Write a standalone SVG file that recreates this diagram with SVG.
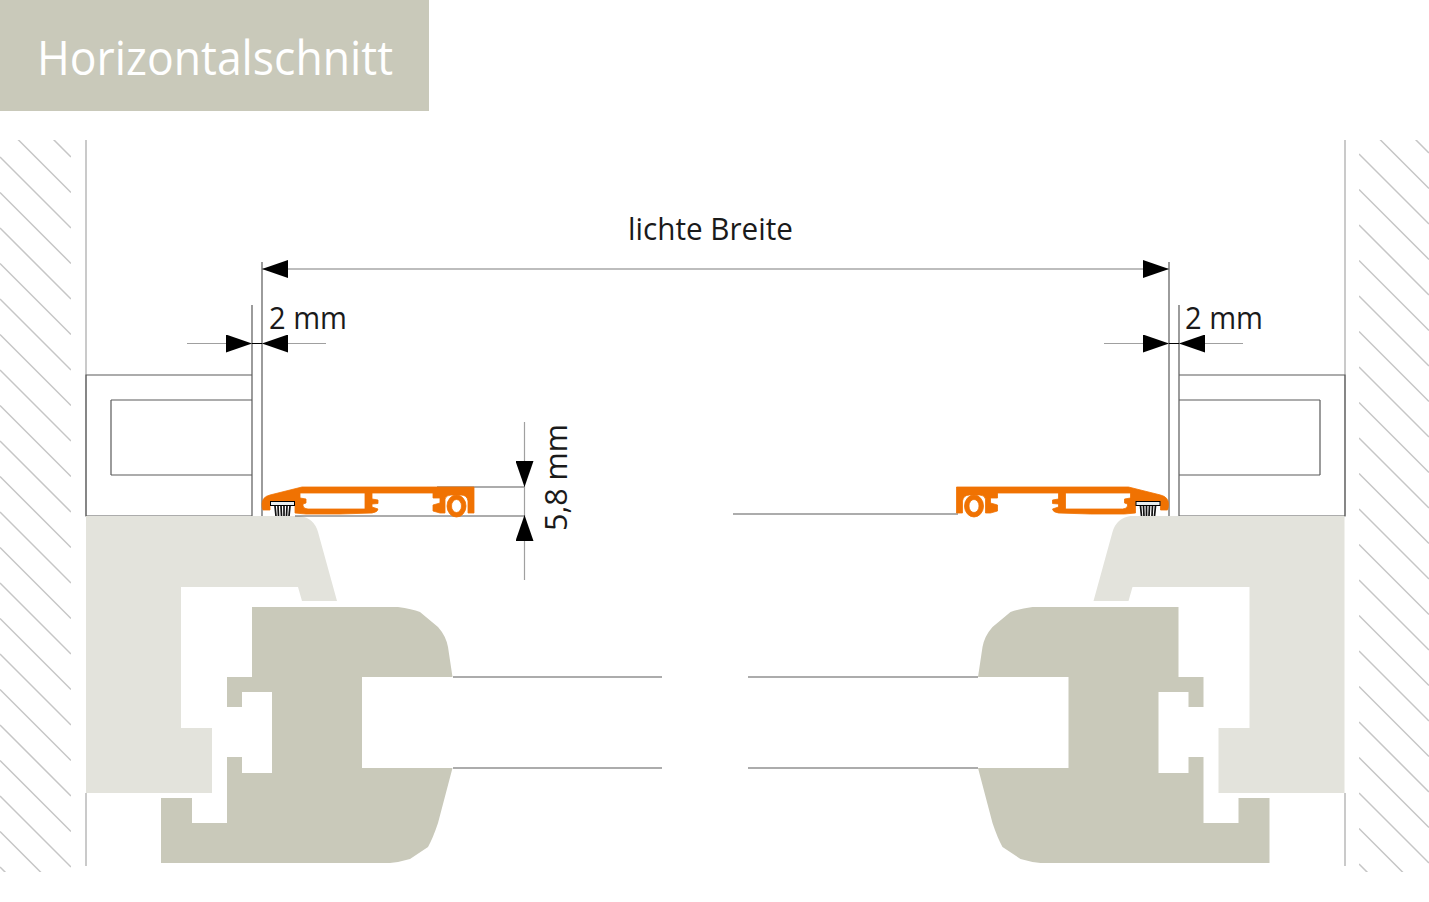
<svg xmlns="http://www.w3.org/2000/svg" width="1429" height="902" viewBox="0 0 1429 902">
<style>
text{font-family:"Open Sans","Noto Sans","Liberation Sans",sans-serif;fill:#1a1a1a}
.dim{font-size:31px}
.wall{stroke:#bdbdbd;stroke-width:1.6;fill:none}
.hatch{stroke:#c6c6c6;stroke-width:1.5;fill:none}
.edge{stroke:#5a5a5a;stroke-width:1.2;fill:none}
.dl{stroke:#7c7c7c;stroke-width:1.1;fill:none}
.gl{stroke:#a0a0a0;stroke-width:1.2;fill:none}
.blk{stroke:#000;stroke-width:1.1;fill:none}
.light{fill:#e3e3dc}
.dark{fill:#c9c9ba}
.org{fill:#f07202;fill-rule:evenodd;stroke:#f07202;stroke-width:.8}
</style>
<defs>
<clipPath id="clipL"><rect x="0" y="140" width="71" height="732"/></clipPath>
<clipPath id="clipR"><rect x="1359" y="140" width="70" height="732"/></clipPath>
<marker id="ah" viewBox="0 0 26 18" refX="26" refY="9" markerWidth="26" markerHeight="18" markerUnits="userSpaceOnUse" orient="auto-start-reverse">
<path d="M0,0 L26,9 L0,18 Z" fill="#000"/>
</marker>
<path id="frame" class="light" d="M86,516 L300,516 Q314,518 318,532 L337,601 L302,601 L298,587 L181,587 L181,728 L212,728 L212,793 L86,793 Z"/>
<path id="sash" class="dark" d="M252,607 L398,607 Q412,609 420,612 L438,627 Q446,636 448,647 L452.500,677 L362,677 L362,768 L452.500,768 L438,823 Q433,838 428,847 L410,859 Q400,862 390,863 L161,863 L161,798 L192,798 L192,823 L227,823 L227,757 L242,757 L242,773 L272,773 L272,692 L242,692 L242,707 L227,707 L227,677 L252,677 Z"/>
<g id="prof">
<path class="org" d="M262,504 Q262,497 270,495 L302,487 L474,487 L474,513 L468,513 L468,501 Q467,495 461,495 L451,495 Q446,495 445,499 L445,513 L440,513 L433,511 L433,505 L440,503 L440,498 L433,498 L433,493 L372,493 L372,499 L378,500 L378,503.500 L372,504 L372,507 L378,509 Q378,512 372,513 L340,514 L306,514 L295,513 L295,501 L270,501 L270,510 L263,510 Q262,508 262,504 Z M300,493 L365,493 L365,509 L308,509 Q304,509 303,506 L303,504 L306,503 L306,499 L300,498 Z"/>
<path class="org" d="M447,506 A9.500,11 0 1 0 466,506 A9.500,11 0 1 0 447,506 Z M451.500,506 A5,6.500 0 1 1 461.500,506 A5,6.500 0 1 1 451.500,506 Z"/>
<rect x="270.500" y="501.500" width="24" height="4" fill="#e8eef0" stroke="#000" stroke-width="1"/>
<path d="M275,506 L276,516 M278,506 L278.500,516 M281,506 L281.500,516 M284,506 L284,516 M287,506 L286.500,516 M290,506 L289,516" stroke="#111" stroke-width="1.7" fill="none"/>
</g>
</defs>

<rect id="header" width="429" height="111" fill="#c9c9ba"/>
<text id="title" x="37" y="75" font-size="47" style="fill:#fff" textLength="356" lengthAdjust="spacingAndGlyphs">Horizontalschnitt</text>

<g id="wall-left">
<path class="hatch" clip-path="url(#clipL)" d="M0,86 l71,71 m-71,-35.500 l71,71 m-71,-35.500 l71,71 m-71,-35.500 l71,71 m-71,-35.500 l71,71 m-71,-35.500 l71,71 m-71,-35.500 l71,71 m-71,-35.500 l71,71 m-71,-35.500 l71,71 m-71,-35.500 l71,71 m-71,-35.500 l71,71 m-71,-35.500 l71,71 m-71,-35.500 l71,71 m-71,-35.500 l71,71 m-71,-35.500 l71,71 m-71,-35.500 l71,71 m-71,-35.500 l71,71 m-71,-35.500 l71,71 m-71,-35.500 l71,71 m-71,-35.500 l71,71 m-71,-35.500 l71,71 m-71,-35.500 l71,71 m-71,-35.500 l71,71"/>
<path class="wall" d="M86,140 V516 M86,793 V866"/>
</g>
<g id="wall-right">
<path class="hatch" clip-path="url(#clipR)" d="M1359,83 l70,70 m-70,-34.500 l70,70 m-70,-34.500 l70,70 m-70,-34.500 l70,70 m-70,-34.500 l70,70 m-70,-34.500 l70,70 m-70,-34.500 l70,70 m-70,-34.500 l70,70 m-70,-34.500 l70,70 m-70,-34.500 l70,70 m-70,-34.500 l70,70 m-70,-34.500 l70,70 m-70,-34.500 l70,70 m-70,-34.500 l70,70 m-70,-34.500 l70,70 m-70,-34.500 l70,70 m-70,-34.500 l70,70 m-70,-34.500 l70,70 m-70,-34.500 l70,70 m-70,-34.500 l70,70 m-70,-34.500 l70,70 m-70,-34.500 l70,70 m-70,-34.500 l70,70"/>
<path class="wall" d="M1345,140 V516 M1345,793 V866"/>
</g>

<g id="block-left">
<path class="edge" d="M252,516 H86 V375 H252 M111,400 H252 M111,475 H252 M111,400 V475"/>
</g>
<g id="block-right">
<path class="edge" d="M1179,516 H1345 V375 H1179 M1320,400 H1179 M1320,475 H1179 M1320,400 V475"/>
</g>

<g id="frame-left"><use href="#frame"/></g>
<g id="frame-right" transform="translate(1430.500,0) scale(-1,1)"><use href="#frame"/></g>
<g id="sash-left"><use href="#sash"/></g>
<g id="sash-right" transform="translate(1430.500,0) scale(-1,1)"><use href="#sash"/></g>

<g id="connectors">
<path class="edge" d="M453,677 H662 M453,768 H662 M748,677 H978 M748,768 H978 M733,514 H958 M295,516 H524 M437,487 H524"/>
<path class="edge" d="M252,305 V516 M262,262 V516 M1169,262 V516 M1179,305 V516"/>
<line class="dl" x1="262" y1="269" x2="1169" y2="269" marker-start="url(#ah)" marker-end="url(#ah)"/>
<path class="gl" d="M187,343.500 H227 M287,343.500 H326 M1104,343.500 H1143 M1203,343.500 H1243"/>
<path class="blk" d="M252,343.500 H262 M1169,343.500 H1179"/>
<line class="dl" x1="227" y1="343.500" x2="252" y2="343.500" marker-end="url(#ah)"/>
<line class="dl" x1="287" y1="343.500" x2="262" y2="343.500" marker-end="url(#ah)"/>
<line class="dl" x1="1143" y1="343.500" x2="1169" y2="343.500" marker-end="url(#ah)"/>
<line class="dl" x1="1205" y1="343.500" x2="1179" y2="343.500" marker-end="url(#ah)"/>
<path class="gl" d="M524.500,422 V461 M524.500,541 V580 M524.500,487 V516"/>
<line class="dl" x1="524.500" y1="461" x2="524.500" y2="487" marker-end="url(#ah)"/>
<line class="dl" x1="524.500" y1="541" x2="524.500" y2="515" marker-end="url(#ah)"/>
</g>

<g id="profile-left"><use href="#prof"/></g>
<g id="profile-right" transform="translate(1430.500,0) scale(-1,1)"><use href="#prof"/></g>

<g id="labels">
<text x="628" y="240" class="dim" textLength="165" lengthAdjust="spacingAndGlyphs">lichte Breite</text>
<text x="269" y="329" class="dim" textLength="78" lengthAdjust="spacingAndGlyphs">2 mm</text>
<text x="1185" y="329" class="dim" textLength="78" lengthAdjust="spacingAndGlyphs">2 mm</text>
<text transform="translate(567,531) rotate(-90)" class="dim" textLength="107" lengthAdjust="spacingAndGlyphs">5,8 mm</text>
</g>
</svg>
